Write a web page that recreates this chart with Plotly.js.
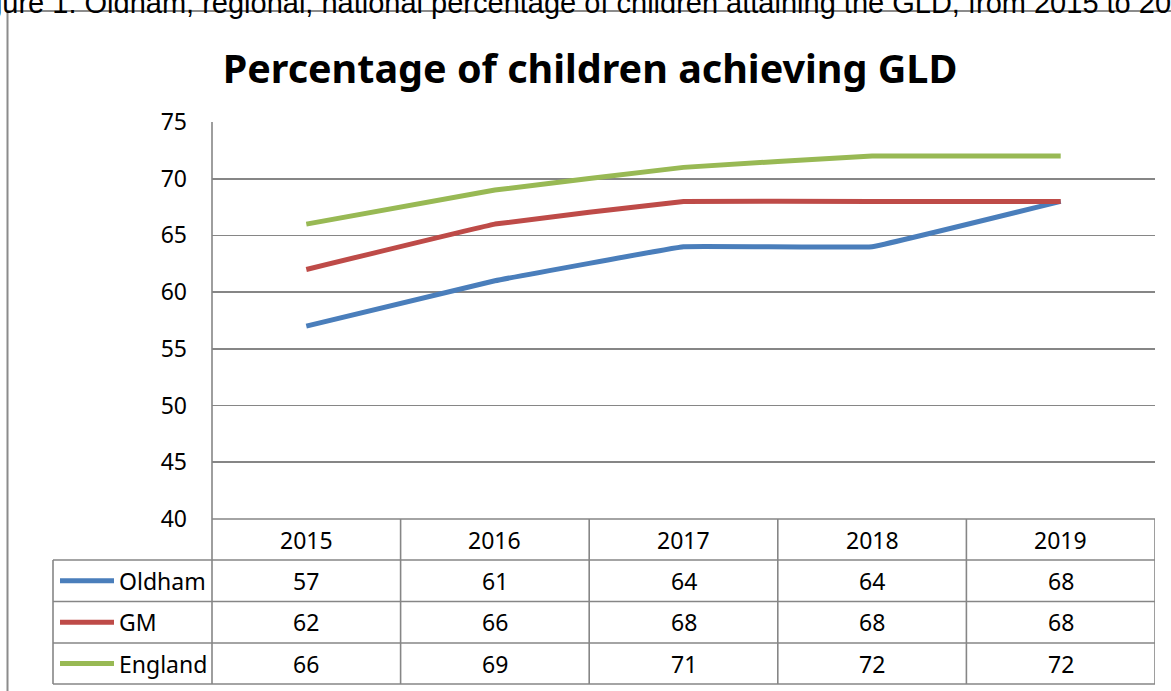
<!DOCTYPE html>
<html>
<head>
<meta charset="utf-8">
<script src="https://cdn.plot.ly/plotly-3.0.1.min.js"></script>
<style>html,body{margin:0;padding:0;background:#fff;}#chart{width:1171px;height:691px;}</style>
</head>
<body>
<div id="chart"></div>
<script>
// ---- data ----
const years = ['2015', '2016', '2017', '2018', '2019'];
const seriesNames = ['Oldham', 'GM', 'England'];
const oldham = [57, 61, 64, 64, 68];
const gm = [62, 66, 68, 68, 68];
const england = [66, 69, 71, 72, 72];
const yTicks = [40, 45, 50, 55, 60, 65, 70, 75];
const chartTitle = 'Percentage of children achieving GLD';
const captionText = 'Figure 1: Oldham, regional, national percentage of children attaining the GLD, from 2015 to 2019';

// ---- styling / layout ----
const W = 1171, H = 691;
const L = 212, R = 1155, T = 122, B = 519;
const colors = ['#4A7EBB', '#BE4B48', '#98B954'];
const gridColor = '#868686';
const font = 'Noto Sans, sans-serif';
const px = x => (x - L) / (R - L);
const py = y => (B - y) / (B - T);

const values = [oldham, gm, england];
const rowEdges = [519, 560, 601.5, 643, 684];
const tableLeft = 53;

const traces = values.map((v, i) => ({
  type: 'scatter', mode: 'lines', x: years, y: v, name: seriesNames[i],
  line: {color: colors[i], width: 5, shape: 'spline', smoothing: 0.15},
  hoverinfo: 'skip', showlegend: false
}));

const shapes = [];
const annotations = [];
const gl = {color: gridColor, width: 1.6};
const cellFont = {family: font, size: 23, color: '#000'};
// frame around figure
shapes.push({type: 'line', xref: 'paper', yref: 'paper', x0: px(7.5), x1: px(7.5), y0: py(11), y1: py(700), line: {color: '#8c8c8c', width: 2}});
shapes.push({type: 'line', xref: 'paper', yref: 'paper', x0: px(7.5), x1: px(1180), y0: py(11), y1: py(11), line: {color: '#8c8c8c', width: 2}});
// table horizontal lines
rowEdges.forEach((ry, k) => {
  shapes.push({type: 'line', xref: 'paper', yref: 'paper', x0: k === 0 ? 0 : px(tableLeft), x1: 1, y0: py(ry), y1: py(ry), line: gl});
});
// left axis line extended through table
shapes.push({type: 'line', xref: 'paper', yref: 'paper', x0: 0, x1: 0, y0: 1, y1: py(rowEdges[4]), line: gl});
shapes.push({type: 'line', xref: 'paper', yref: 'paper', x0: px(tableLeft), x1: px(tableLeft), y0: py(rowEdges[1]), y1: py(rowEdges[4]), line: gl});
// column separators from category boundaries
for (let k = 1; k <= years.length; k++) {
  shapes.push({type: 'line', xref: 'x', yref: 'paper', x0: k - 0.5, x1: k - 0.5, y0: 0, y1: py(rowEdges[4]), line: gl});
}
// header years
years.forEach((yr, j) => {
  annotations.push({xref: 'x', yref: 'paper', x: j, y: py((rowEdges[0] + rowEdges[1]) / 2), text: yr, showarrow: false,
    xanchor: 'center', yanchor: 'middle', font: cellFont});
});
// rows
values.forEach((v, i) => {
  const cy = py((rowEdges[i + 1] + rowEdges[i + 2]) / 2);
  shapes.push({type: 'line', xref: 'paper', yref: 'paper', x0: px(60), x1: px(114), y0: cy, y1: cy, line: {color: colors[i], width: 5}});
  annotations.push({xref: 'paper', yref: 'paper', x: px(117), y: cy, text: seriesNames[i], showarrow: false,
    xanchor: 'left', yanchor: 'middle', font: cellFont});
  v.forEach((val, j) => {
    annotations.push({xref: 'x', yref: 'paper', x: j, y: cy, text: String(val), showarrow: false,
      xanchor: 'center', yanchor: 'middle', font: cellFont});
  });
});
// caption (cropped at top in original)
annotations.push({xref: 'paper', yref: 'paper', x: px(-40), y: py(3), text: captionText, showarrow: false,
  xanchor: 'left', yanchor: 'middle', font: {family: 'Liberation Sans, Arial, sans-serif', size: 29, color: '#000'}});

const layout = {
  width: W, height: H,
  margin: {l: L, r: W - R, t: T, b: H - B, pad: 0},
  paper_bgcolor: '#fff', plot_bgcolor: '#fff',
  title: {text: '<b>' + chartTitle + '</b>', x: 590 / W, xanchor: 'center', y: 1 - 69 / H, yanchor: 'middle',
    font: {family: font, size: 39.5, color: '#000'}},
  xaxis: {type: 'category', range: [-0.5, years.length - 0.5], showticklabels: false, showgrid: false,
    zeroline: false, showline: false, ticks: ''},
  yaxis: {range: [40, 75], tickvals: yTicks, ticktext: yTicks.map(String), showgrid: true, gridcolor: gridColor, gridwidth: 1.6,
    zeroline: false, showline: false, ticks: '', ticklabelstandoff: 24,
    tickfont: {family: font, size: 23, color: '#000'}},
  shapes: shapes, annotations: annotations, showlegend: false
};

Plotly.newPlot('chart', traces, layout, {displayModeBar: false, staticPlot: true});
</script>
</body>
</html>
